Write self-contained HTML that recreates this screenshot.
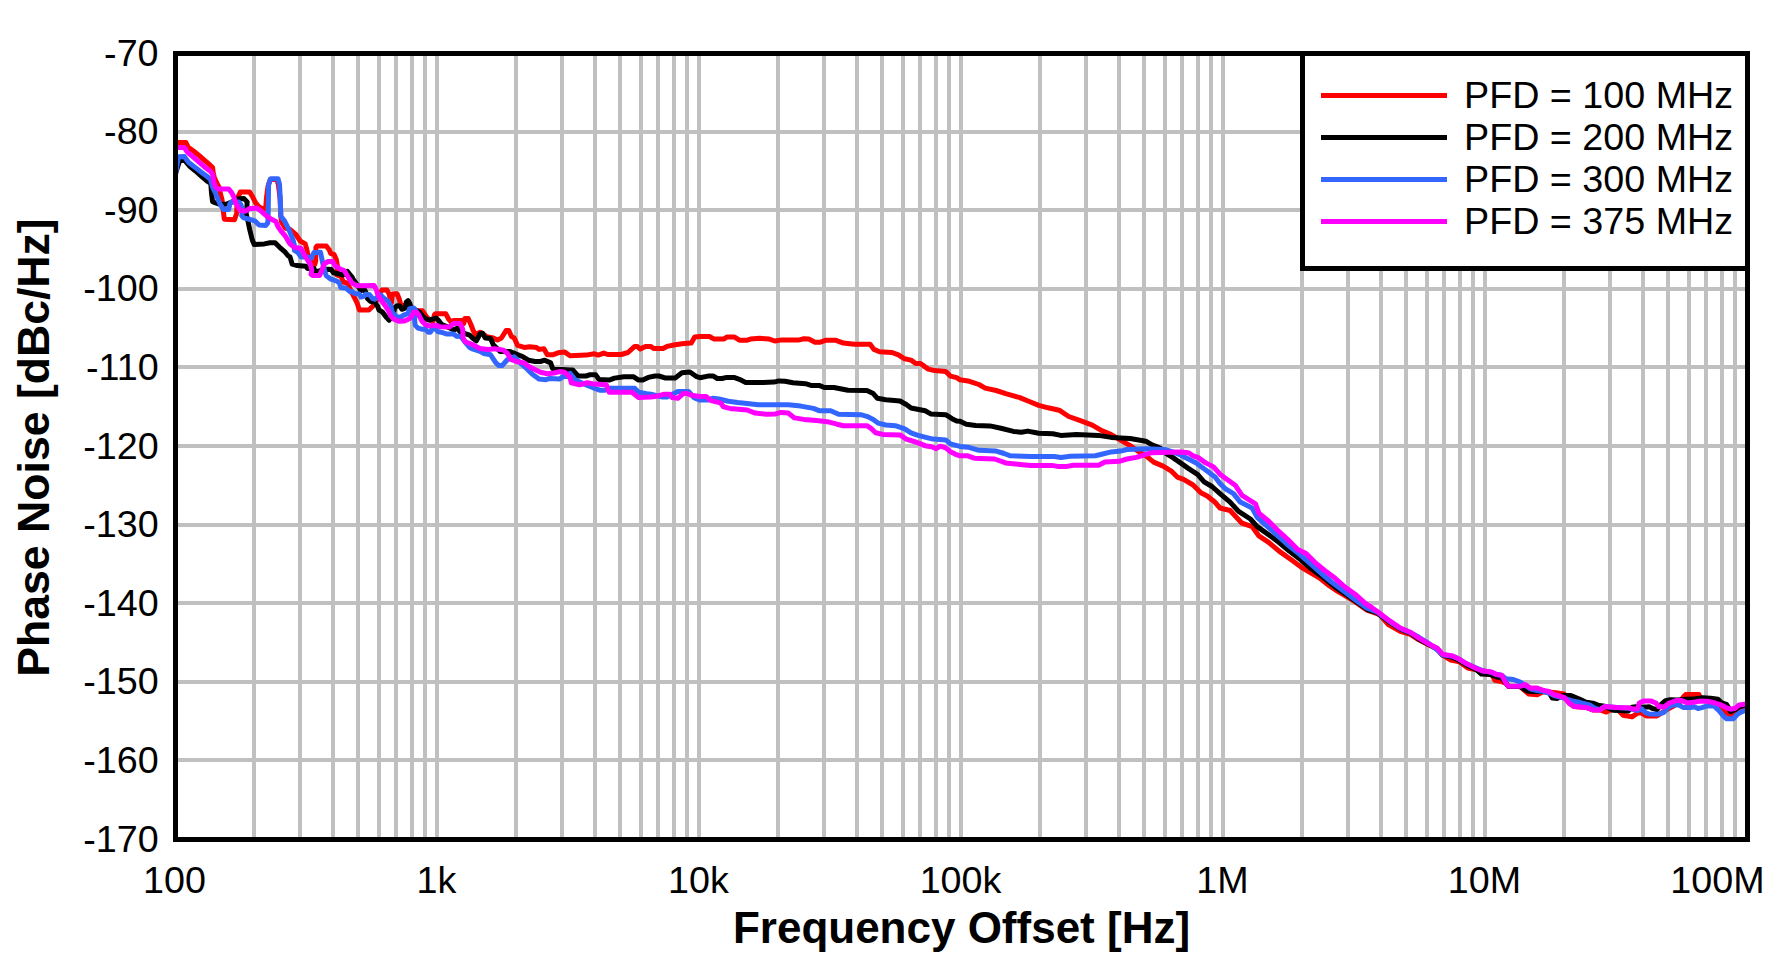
<!DOCTYPE html>
<html lang="en"><head><meta charset="utf-8"><title>Phase Noise vs Frequency Offset</title>
<style>html,body{margin:0;padding:0;background:#fff;}body{width:1779px;height:965px;overflow:hidden;}svg{display:block;}text{font-family:"Liberation Sans",Arial,Helvetica,sans-serif;fill:#000;}</style></head><body>
<svg width="1779" height="965" viewBox="0 0 1779 965">
<rect x="0" y="0" width="1779" height="965" fill="#ffffff"/>
<path d="M254.0,53.5 V839.5 M300.0,53.5 V839.5 M333.0,53.5 V839.5 M358.0,53.5 V839.5 M379.0,53.5 V839.5 M396.0,53.5 V839.5 M412.0,53.5 V839.5 M425.0,53.5 V839.5 M437.0,53.5 V839.5 M516.0,53.5 V839.5 M562.0,53.5 V839.5 M595.0,53.5 V839.5 M620.0,53.5 V839.5 M641.0,53.5 V839.5 M658.0,53.5 V839.5 M674.0,53.5 V839.5 M687.0,53.5 V839.5 M699.0,53.5 V839.5 M778.0,53.5 V839.5 M824.0,53.5 V839.5 M857.0,53.5 V839.5 M882.0,53.5 V839.5 M903.0,53.5 V839.5 M920.0,53.5 V839.5 M936.0,53.5 V839.5 M949.0,53.5 V839.5 M961.0,53.5 V839.5 M1040.0,53.5 V839.5 M1086.0,53.5 V839.5 M1119.0,53.5 V839.5 M1144.0,53.5 V839.5 M1165.0,53.5 V839.5 M1182.0,53.5 V839.5 M1198.0,53.5 V839.5 M1211.0,53.5 V839.5 M1223.0,53.5 V839.5 M1302.0,53.5 V839.5 M1348.0,53.5 V839.5 M1381.0,53.5 V839.5 M1406.0,53.5 V839.5 M1427.0,53.5 V839.5 M1444.0,53.5 V839.5 M1460.0,53.5 V839.5 M1473.0,53.5 V839.5 M1485.0,53.5 V839.5 M1564.0,53.5 V839.5 M1610.0,53.5 V839.5 M1643.0,53.5 V839.5 M1668.0,53.5 V839.5 M1689.0,53.5 V839.5 M1706.0,53.5 V839.5 M1722.0,53.5 V839.5 M1735.0,53.5 V839.5 M175.5,132.0 H1747.5 M175.5,210.0 H1747.5 M175.5,289.0 H1747.5 M175.5,367.0 H1747.5 M175.5,446.0 H1747.5 M175.5,525.0 H1747.5 M175.5,603.0 H1747.5 M175.5,682.0 H1747.5 M175.5,760.0 H1747.5" stroke="#c0c0c0" stroke-width="4" fill="none"/>
<defs><clipPath id="pc"><rect x="175.5" y="53.5" width="1572.0" height="786.0"/></clipPath></defs>
<g clip-path="url(#pc)" fill="none" stroke-width="5" stroke-linejoin="round" stroke-linecap="butt">
<path d="M174.9,142.5 L185.8,142.5 L188.3,147.3 L193.8,151.3 L199.6,156.0 L204.6,160.4 L209.7,164.7 L212.6,167.6 L213.2,172.7 L214.4,177.8 L217.0,183.6 L219.1,187.2 L220.2,193.0 L222.0,199.6 L224.3,219.3 L234.5,219.7 L236.7,213.5 L237.0,204.8 L238.5,196.1 L240.3,192.1 L249.7,192.1 L252.6,196.8 L255.5,202.6 L259.1,207.0 L264.2,209.2 L265.8,206.6 L266.5,197.6 L268.0,186.3 L270.2,179.6 L276.9,179.4 L278.4,184.9 L280.0,197.6 L280.8,216.4 L281.6,222.2 L285.3,228.0 L290.0,229.4 L295.8,234.4 L300.2,241.0 L305.2,243.9 L306.7,248.9 L307.8,254.7 L311.0,261.3 L314.7,264.5 L315.7,261.3 L315.9,247.5 L317.0,246.0 L326.3,246.0 L329.2,249.7 L330.6,253.3 L334.2,254.7 L336.4,259.8 L337.5,266.3 L336.8,275.0 L340.8,276.5 L343.7,282.3 L347.3,283.0 L352.2,293.4 L354.4,297.7 L357.3,303.5 L359.4,310.0 L368.9,310.0 L372.5,306.4 L374.7,303.5 L378.3,297.0 L380.5,292.6 L381.9,290.1 L387.0,290.1 L389.2,294.1 L391.3,303.5 L392.4,294.1 L397.1,293.7 L399.3,299.2 L400.8,305.0 L403.7,305.7 L408.0,307.1 L413.8,310.0 L418.2,310.8 L422.5,310.8 L425.4,315.1 L426.9,317.3 L429.0,319.2 L432.6,321.7 L434.5,314.8 L435.5,313.7 L445.7,313.7 L448.6,319.2 L450.8,321.7 L453.7,320.6 L461.7,320.6 L463.8,323.5 L464.9,318.4 L468.2,318.4 L471.1,325.0 L473.3,330.8 L475.4,334.4 L480.0,332.2 L486.6,336.6 L493.3,338.0 L497.4,340.0 L501.4,338.0 L506.1,330.5 L508.8,330.5 L511.5,336.6 L514.2,338.0 L517.6,345.4 L524.3,347.4 L529.7,346.7 L536.5,347.4 L539.2,349.4 L543.9,348.7 L547.3,354.8 L552.6,354.8 L558.0,352.8 L564.8,352.1 L570.0,355.8 L586.2,355.1 L594.3,353.8 L598.3,355.1 L603.7,353.1 L607.7,354.5 L621.2,354.5 L628.0,352.5 L634.7,346.4 L637.4,346.4 L640.1,349.1 L645.5,346.4 L650.9,346.4 L653.6,348.4 L663.0,348.4 L667.0,346.4 L673.8,345.0 L681.9,343.7 L691.3,343.0 L694.7,337.0 L700.0,336.5 L709.4,336.5 L714.2,339.1 L723.6,339.1 L726.8,337.1 L734.6,337.1 L739.4,340.2 L747.2,340.2 L750.4,339.1 L759.8,338.3 L769.3,339.1 L774.8,341.0 L781.9,339.9 L799.2,339.9 L803.9,338.8 L808.7,339.1 L815.0,342.3 L819.7,342.3 L826.0,340.2 L835.4,340.2 L843.3,343.1 L854.3,344.3 L870.1,344.3 L874.0,349.4 L879.5,351.7 L892.1,352.5 L898.4,354.9 L904.7,358.8 L911.0,360.1 L915.7,363.5 L920.5,363.5 L928.3,369.1 L934.6,370.6 L945.7,371.4 L950.4,376.1 L956.7,377.7 L960.0,379.8 L969.4,381.3 L978.9,384.5 L985.2,388.1 L996.2,390.5 L1005.7,393.6 L1019.8,397.6 L1029.3,401.5 L1038.7,405.4 L1048.2,407.8 L1059.2,410.2 L1068.7,416.5 L1079.7,420.4 L1092.3,425.1 L1101.7,430.6 L1111.2,434.6 L1120.6,440.1 L1130.1,445.6 L1138.0,451.1 L1145.8,455.8 L1153.7,462.1 L1163.1,466.1 L1171.0,470.8 L1177.3,477.1 L1183.6,479.4 L1193.1,485.0 L1200.9,492.8 L1207.2,496.0 L1215.1,502.3 L1220.0,508.0 L1230.1,510.5 L1242.0,523.2 L1252.1,526.6 L1258.9,535.9 L1269.0,542.6 L1279.1,551.1 L1290.9,559.5 L1301.1,567.1 L1309.5,572.2 L1319.7,578.1 L1328.1,584.9 L1338.2,591.6 L1348.4,597.5 L1358.5,604.3 L1367.0,610.2 L1377.1,613.6 L1380.0,615.0 L1388.4,624.6 L1400.3,631.4 L1410.4,634.3 L1418.9,639.8 L1429.0,644.9 L1437.4,649.1 L1442.5,655.0 L1450.9,660.1 L1459.4,661.8 L1467.8,668.0 L1476.3,669.7 L1483.0,671.9 L1491.5,673.6 L1494.9,680.4 L1499.9,681.2 L1505.8,683.2 L1508.4,686.3 L1520.2,686.6 L1528.6,693.9 L1537.1,694.7 L1543.9,691.4 L1555.7,692.7 L1564.1,693.9 L1569.2,703.2 L1574.3,706.6 L1586.1,707.4 L1592.8,709.9 L1599.6,709.9 L1606.4,712.0 L1609.7,710.3 L1616.5,708.2 L1623.2,715.3 L1632.0,716.9 L1637.8,713.0 L1641.6,713.0 L1646.4,715.9 L1656.9,715.9 L1668.4,708.7 L1672.2,706.8 L1679.8,702.0 L1683.6,696.8 L1685.6,694.6 L1698.9,694.6 L1700.4,697.7 L1704.7,700.1 L1712.3,701.1 L1718.0,704.0 L1721.9,709.7 L1727.6,713.5 L1730.5,714.9 L1733.3,712.1 L1739.1,707.8 L1746.7,705.9" stroke="#ff0000"/>
<path d="M174.9,175.6 L179.7,160.5 L184.7,160.5 L189.4,166.0 L195.2,170.7 L201.0,175.8 L206.8,180.8 L210.8,183.4 L211.5,193.0 L212.6,201.7 L214.9,202.6 L220.7,204.5 L226.5,204.1 L232.3,201.9 L236.7,199.0 L243.9,198.6 L247.2,201.9 L246.8,207.7 L246.1,213.5 L247.9,220.8 L249.7,229.5 L252.3,240.0 L254.2,244.6 L264.3,243.9 L270.0,242.8 L275.1,242.8 L279.4,247.1 L285.2,252.2 L288.1,255.8 L290.0,256.9 L292.2,264.2 L297.3,265.6 L306.0,266.3 L307.4,268.5 L313.9,268.5 L315.4,271.4 L317.6,271.4 L322.6,270.0 L327.0,269.2 L331.3,269.6 L333.5,272.9 L339.3,274.0 L342.9,275.0 L347.3,271.4 L352.2,277.4 L352.9,278.9 L356.5,283.9 L360.9,290.5 L364.5,289.7 L366.7,294.1 L367.4,298.4 L370.3,301.3 L374.7,302.1 L377.6,306.4 L379.0,310.0 L382.6,312.2 L386.3,317.3 L389.2,320.2 L393.5,313.7 L394.6,307.9 L397.1,305.7 L400.0,306.1 L401.9,309.3 L405.5,307.9 L406.2,302.1 L408.0,300.6 L409.8,303.5 L410.9,307.1 L415.3,310.0 L419.6,312.2 L422.5,315.8 L425.4,318.7 L429.1,320.1 L436.3,318.1 L439.2,321.3 L441.3,324.2 L447.9,327.1 L453.7,330.0 L457.3,328.2 L460.2,331.9 L465.3,333.7 L469.6,335.1 L472.5,338.0 L476.2,340.9 L478.3,337.3 L480.0,333.7 L482.6,333.2 L485.3,338.0 L490.6,338.6 L493.3,344.7 L497.4,348.7 L500.1,351.4 L509.5,351.4 L516.3,354.1 L523.0,356.8 L528.4,360.2 L535.1,361.5 L540.5,361.5 L544.6,360.2 L550.6,362.9 L552.6,368.3 L554.0,369.6 L562.1,369.6 L570.0,370.0 L572.7,370.0 L578.1,376.0 L586.2,376.0 L590.2,374.7 L595.6,374.7 L599.0,379.4 L609.1,380.1 L614.5,378.1 L623.9,376.7 L633.3,376.7 L638.7,380.1 L642.8,380.1 L648.2,377.4 L654.9,376.0 L658.9,376.0 L665.7,378.1 L675.1,378.1 L681.9,372.7 L689.9,372.0 L696.7,376.7 L700.0,377.7 L707.9,376.1 L713.4,376.1 L717.3,378.5 L722.0,378.5 L726.8,377.4 L733.9,377.4 L739.4,379.3 L745.7,382.4 L763.0,382.4 L774.0,382.1 L778.7,380.9 L785.0,381.2 L792.9,382.8 L805.5,383.7 L811.8,385.6 L819.7,385.6 L824.4,387.5 L833.9,387.5 L848.0,390.3 L866.9,390.6 L873.2,393.5 L877.2,398.2 L885.8,399.8 L900.0,401.0 L906.3,404.5 L911.0,408.0 L925.2,410.8 L930.7,413.9 L945.7,414.7 L952.0,418.7 L956.7,421.0 L960.0,421.2 L966.3,424.3 L975.7,425.4 L989.9,425.9 L1000.9,428.3 L1013.5,431.4 L1021.4,432.2 L1027.7,431.1 L1038.7,433.3 L1052.9,433.8 L1060.8,435.4 L1076.5,434.6 L1098.6,435.4 L1111.2,437.4 L1130.1,438.5 L1145.8,441.2 L1152.1,444.8 L1160.0,448.0 L1166.3,453.5 L1172.6,457.4 L1180.5,462.9 L1188.3,468.4 L1197.8,474.7 L1204.1,481.8 L1212.0,486.5 L1220.0,493.6 L1230.1,502.1 L1238.6,511.4 L1250.4,519.0 L1257.2,526.6 L1270.7,536.2 L1279.1,542.6 L1289.3,551.1 L1299.4,558.7 L1311.2,568.8 L1321.4,576.1 L1334.9,586.9 L1346.7,595.0 L1358.5,603.1 L1368.6,610.2 L1377.1,612.7 L1380.0,615.0 L1390.1,622.4 L1400.3,628.9 L1410.4,633.1 L1418.9,639.3 L1429.0,644.4 L1437.4,649.1 L1442.5,655.0 L1452.6,657.2 L1459.4,660.6 L1466.1,664.7 L1476.3,669.7 L1481.4,674.1 L1489.8,674.5 L1496.6,677.0 L1501.6,677.8 L1505.8,682.9 L1508.4,686.3 L1520.2,686.6 L1527.0,691.0 L1532.0,691.4 L1542.2,691.4 L1548.9,692.2 L1552.3,698.1 L1557.4,698.4 L1562.4,695.6 L1570.9,695.6 L1579.3,699.0 L1586.1,702.3 L1592.8,703.2 L1597.9,705.2 L1604.7,706.2 L1613.1,710.3 L1628.3,710.9 L1632.0,707.3 L1635.9,706.8 L1643.5,707.3 L1649.2,706.8 L1653.1,708.7 L1656.9,709.7 L1660.7,704.9 L1665.5,700.6 L1670.3,699.7 L1677.9,700.1 L1686.5,699.2 L1695.1,698.7 L1702.8,697.7 L1710.4,698.2 L1718.0,699.2 L1721.9,703.0 L1726.6,704.4 L1728.6,707.8 L1730.5,711.6 L1735.2,709.7 L1739.1,706.8 L1746.7,704.9" stroke="#000000"/>
<path d="M174.9,178.5 L178.4,156.8 L184.3,156.6 L188.7,162.6 L194.5,166.9 L201.0,172.0 L206.8,176.3 L210.4,179.2 L212.6,187.2 L215.5,193.0 L218.4,200.3 L219.9,203.9 L223.6,209.5 L228.7,209.5 L229.8,204.1 L230.9,202.3 L233.0,201.9 L238.8,201.9 L241.0,204.8 L242.5,210.6 L241.7,215.7 L243.9,217.9 L248.3,219.0 L254.8,220.8 L259.1,225.1 L265.7,225.5 L267.8,222.9 L268.2,213.5 L268.6,184.5 L270.7,178.7 L278.0,178.7 L279.5,184.5 L280.2,197.6 L280.9,216.4 L284.5,220.8 L287.4,226.6 L290.0,232.3 L292.9,239.5 L294.4,245.3 L294.4,250.4 L298.0,252.6 L300.9,256.9 L307.4,256.9 L311.0,258.4 L313.9,252.6 L320.5,252.2 L321.9,259.1 L322.6,262.7 L324.8,271.4 L326.3,275.8 L330.6,279.0 L336.4,280.8 L339.3,283.0 L340.8,287.4 L345.8,288.1 L350.2,291.7 L352.2,291.6 L354.4,293.4 L359.4,294.1 L360.9,297.0 L363.8,296.3 L366.0,294.1 L369.6,294.8 L372.5,298.4 L374.7,299.2 L380.5,294.8 L384.1,298.4 L388.4,301.3 L391.0,306.4 L392.1,312.2 L396.4,316.6 L400.8,317.3 L403.7,315.1 L408.0,313.7 L409.5,308.6 L413.8,307.9 L416.0,310.8 L414.9,316.6 L414.6,320.2 L415.3,325.3 L418.2,328.2 L422.5,329.3 L425.4,329.3 L428.3,332.2 L430.5,332.2 L431.9,329.3 L435.5,328.6 L437.7,331.5 L443.5,332.9 L446.4,334.0 L453.7,334.0 L456.6,336.2 L460.9,336.6 L465.3,342.4 L469.6,347.5 L472.5,348.9 L480.0,351.4 L483.9,353.5 L490.6,354.8 L495.4,362.2 L498.7,365.6 L502.1,365.6 L507.5,359.5 L510.9,358.2 L514.2,356.8 L521.6,364.2 L527.0,368.9 L532.4,374.3 L539.2,379.1 L545.9,379.7 L549.9,378.4 L559.4,379.1 L563.4,376.4 L567.5,376.4 L570.0,373.3 L575.4,380.1 L587.5,385.5 L594.3,388.2 L599.6,390.2 L605.0,390.2 L610.4,388.2 L634.7,388.2 L638.7,392.2 L646.8,393.6 L650.9,394.2 L661.6,396.9 L667.0,396.9 L673.8,393.6 L677.8,391.5 L688.6,391.5 L694.0,397.6 L700.0,400.1 L707.9,400.1 L712.6,398.2 L718.9,399.0 L728.3,401.3 L737.8,402.6 L758.3,404.8 L788.2,404.8 L800.8,406.1 L813.4,408.4 L819.7,410.8 L830.7,410.8 L838.6,414.3 L860.6,414.7 L866.9,416.3 L873.2,419.4 L878.0,423.1 L885.8,425.0 L895.3,425.7 L904.7,428.9 L911.0,432.8 L917.3,435.2 L926.8,437.6 L933.1,439.1 L945.7,439.9 L950.4,443.9 L960.0,446.4 L967.9,447.2 L978.9,450.3 L996.2,451.1 L1004.1,453.5 L1010.4,455.8 L1030.9,456.6 L1054.5,456.6 L1060.8,457.4 L1070.2,456.3 L1095.4,455.8 L1101.7,454.3 L1111.2,451.9 L1120.6,451.1 L1126.9,449.5 L1145.8,448.7 L1164.7,449.5 L1172.6,451.9 L1180.5,455.0 L1189.9,459.8 L1196.2,462.9 L1205.7,470.0 L1215.1,477.1 L1220.0,483.5 L1225.1,488.6 L1233.5,493.6 L1240.3,502.1 L1252.1,508.0 L1257.2,517.3 L1270.7,529.5 L1277.4,535.5 L1287.6,544.7 L1299.4,554.0 L1311.2,564.3 L1321.4,573.5 L1331.5,582.0 L1343.3,590.8 L1355.1,599.7 L1367.0,608.2 L1377.1,611.9 L1380.0,614.2 L1390.1,621.8 L1400.3,628.5 L1410.4,632.6 L1418.9,637.3 L1429.0,643.7 L1437.4,650.0 L1442.5,655.0 L1452.6,656.2 L1459.4,659.3 L1466.1,663.5 L1476.3,668.0 L1483.0,670.7 L1491.5,672.4 L1496.6,674.5 L1501.6,675.3 L1505.8,678.7 L1513.4,679.5 L1520.2,682.1 L1525.3,685.4 L1530.3,688.8 L1537.1,690.5 L1543.9,691.4 L1548.9,693.0 L1554.0,695.6 L1564.1,698.1 L1570.9,700.6 L1579.3,702.3 L1589.5,704.9 L1594.5,708.2 L1599.6,709.6 L1604.7,706.6 L1616.5,707.4 L1628.3,708.2 L1633.4,709.6 L1637.8,710.6 L1641.6,708.7 L1645.4,712.6 L1649.2,714.0 L1656.9,714.3 L1663.6,712.6 L1668.4,707.3 L1673.1,705.1 L1678.9,705.1 L1683.6,707.6 L1690.3,707.6 L1694.2,706.8 L1698.0,708.5 L1701.8,707.6 L1706.6,706.1 L1714.2,706.1 L1719.0,710.6 L1723.8,716.4 L1726.6,718.8 L1733.3,718.8 L1737.2,714.5 L1741.0,712.1 L1746.7,709.7" stroke="#3366ff"/>
<path d="M174.9,147.5 L184.3,147.5 L187.6,152.4 L193.0,156.8 L198.8,161.8 L204.6,166.9 L210.4,171.3 L212.6,174.2 L213.7,181.4 L215.5,187.2 L218.4,189.0 L228.6,189.0 L231.5,192.3 L233.7,196.7 L235.8,203.2 L240.3,210.6 L245.4,211.3 L249.7,208.4 L257.0,208.1 L261.3,211.3 L267.1,216.4 L271.5,219.3 L275.8,221.5 L278.0,226.6 L281.6,231.7 L285.3,236.0 L290.0,243.9 L294.4,247.5 L300.9,248.2 L303.8,254.0 L307.4,259.8 L310.3,264.2 L311.8,270.0 L311.0,274.3 L312.5,275.4 L319.7,275.4 L321.9,270.0 L324.1,264.2 L327.7,261.6 L332.8,261.6 L335.0,265.6 L339.3,268.5 L344.4,270.7 L347.3,275.8 L352.2,283.2 L357.3,285.7 L373.9,285.4 L376.1,289.0 L377.6,294.1 L380.5,299.2 L384.8,305.0 L388.4,310.8 L390.6,315.8 L394.2,319.5 L399.3,321.3 L404.4,320.9 L409.5,318.7 L412.4,315.1 L413.8,312.2 L416.7,312.2 L418.9,315.1 L421.8,320.9 L425.4,324.6 L429.1,325.9 L436.3,325.3 L440.6,326.8 L449.3,327.1 L453.7,323.5 L460.2,323.5 L462.7,329.3 L463.1,338.0 L465.3,341.7 L472.5,344.6 L480.0,348.5 L488.0,349.4 L494.7,348.7 L503.5,350.1 L507.5,353.5 L510.9,359.5 L516.3,361.5 L524.3,362.9 L528.4,366.3 L533.8,368.9 L540.5,372.3 L547.3,373.7 L554.0,373.0 L559.4,371.6 L564.8,372.3 L570.0,377.4 L571.3,382.8 L579.4,384.8 L587.5,382.8 L594.3,384.1 L606.4,384.8 L609.1,392.2 L621.2,392.2 L632.0,392.2 L638.7,397.6 L650.9,396.9 L656.3,396.3 L664.3,394.2 L669.7,394.2 L672.4,397.6 L677.8,398.3 L683.2,393.6 L687.3,393.6 L692.6,395.6 L700.0,396.6 L706.3,396.6 L711.0,400.6 L720.5,402.9 L723.6,406.9 L729.9,408.4 L747.2,410.0 L755.1,413.1 L766.1,414.3 L775.6,413.9 L781.1,412.4 L788.2,413.1 L794.5,417.9 L803.9,419.4 L816.5,420.6 L829.1,422.1 L837.0,424.2 L843.3,425.7 L866.9,425.7 L871.7,428.9 L875.6,432.8 L882.7,434.4 L900.0,434.9 L906.3,439.1 L915.7,442.0 L920.5,443.9 L925.2,445.7 L931.5,446.7 L936.2,448.6 L940.2,446.2 L945.7,447.8 L950.4,451.7 L955.1,454.1 L960.0,455.8 L967.9,455.8 L974.2,458.2 L994.6,459.0 L1005.7,462.9 L1019.8,464.5 L1030.9,465.6 L1052.9,465.6 L1057.6,466.4 L1067.1,466.4 L1073.4,465.3 L1098.6,465.3 L1104.9,462.1 L1119.1,461.3 L1126.9,459.0 L1136.4,457.4 L1145.8,454.3 L1152.1,452.7 L1169.4,452.2 L1180.5,451.9 L1188.3,452.7 L1193.1,455.8 L1197.8,457.4 L1205.7,462.9 L1213.5,466.9 L1220.0,474.2 L1226.8,479.3 L1235.2,485.2 L1242.0,495.3 L1255.5,503.8 L1258.9,513.1 L1269.0,521.5 L1277.4,530.0 L1287.6,539.3 L1297.7,549.4 L1306.1,553.6 L1314.6,562.1 L1324.7,570.5 L1334.9,578.1 L1343.3,585.7 L1355.1,594.2 L1365.3,603.4 L1372.0,607.7 L1380.0,613.6 L1390.1,621.2 L1400.3,628.0 L1410.4,632.2 L1418.9,638.1 L1429.0,644.1 L1437.4,648.3 L1442.5,654.2 L1452.6,655.9 L1459.4,659.3 L1466.1,663.5 L1476.3,668.5 L1483.0,671.1 L1491.5,671.9 L1496.6,674.5 L1501.6,675.3 L1505.8,682.9 L1508.4,686.3 L1520.2,686.3 L1525.3,684.6 L1530.3,688.0 L1537.1,688.0 L1543.9,690.5 L1548.9,691.4 L1554.0,694.7 L1564.1,697.3 L1569.2,703.2 L1574.3,706.6 L1586.1,707.4 L1592.8,709.9 L1599.6,709.9 L1604.7,706.6 L1616.5,707.4 L1628.3,707.7 L1633.4,709.1 L1637.8,708.7 L1639.2,703.0 L1643.5,701.1 L1651.2,701.1 L1655.9,703.0 L1658.8,706.8 L1664.5,706.8 L1669.3,703.0 L1676.0,700.6 L1681.7,700.6 L1687.5,703.0 L1695.1,702.0 L1699.9,701.1 L1709.4,701.6 L1715.2,703.0 L1720.9,704.9 L1726.6,707.8 L1730.5,709.2 L1735.2,708.3 L1739.1,704.9 L1746.7,704.0" stroke="#ff00ff"/>
</g>
<rect x="1302.5" y="53.5" width="445.0" height="215.0" fill="#fff" stroke="#000" stroke-width="5"/>
<rect x="175.5" y="53.5" width="1572.0" height="786.0" fill="none" stroke="#000" stroke-width="5"/>
<line x1="1321" x2="1447" y1="95.5" y2="95.5" stroke="#ff0000" stroke-width="5"/>
<text x="1464" y="107.9" font-size="37.7">PFD = 100 MHz</text>
<line x1="1321" x2="1447" y1="137.5" y2="137.5" stroke="#000000" stroke-width="5"/>
<text x="1464" y="149.9" font-size="37.7">PFD = 200 MHz</text>
<line x1="1321" x2="1447" y1="179.5" y2="179.5" stroke="#3366ff" stroke-width="5"/>
<text x="1464" y="191.9" font-size="37.7">PFD = 300 MHz</text>
<line x1="1321" x2="1447" y1="221.5" y2="221.5" stroke="#ff00ff" stroke-width="5"/>
<text x="1464" y="233.9" font-size="37.7">PFD = 375 MHz</text>
<text x="158.6" y="65.5" font-size="37.7" text-anchor="end">-70</text>
<text x="158.6" y="144.1" font-size="37.7" text-anchor="end">-80</text>
<text x="158.6" y="222.7" font-size="37.7" text-anchor="end">-90</text>
<text x="158.6" y="301.3" font-size="37.7" text-anchor="end">-100</text>
<text x="158.6" y="379.9" font-size="37.7" text-anchor="end">-110</text>
<text x="158.6" y="458.5" font-size="37.7" text-anchor="end">-120</text>
<text x="158.6" y="537.1" font-size="37.7" text-anchor="end">-130</text>
<text x="158.6" y="615.7" font-size="37.7" text-anchor="end">-140</text>
<text x="158.6" y="694.3" font-size="37.7" text-anchor="end">-150</text>
<text x="158.6" y="772.9" font-size="37.7" text-anchor="end">-160</text>
<text x="158.6" y="851.5" font-size="37.7" text-anchor="end">-170</text>
<text x="174.5" y="893.2" font-size="37.7" text-anchor="middle">100</text>
<text x="436.5" y="893.2" font-size="37.7" text-anchor="middle">1k</text>
<text x="698.5" y="893.2" font-size="37.7" text-anchor="middle">10k</text>
<text x="960.5" y="893.2" font-size="37.7" text-anchor="middle">100k</text>
<text x="1222.5" y="893.2" font-size="37.7" text-anchor="middle">1M</text>
<text x="1484.5" y="893.2" font-size="37.7" text-anchor="middle">10M</text>
<text x="1717.5" y="893.2" font-size="37.7" text-anchor="middle">100M</text>
<text x="961.5" y="943" font-size="44" font-weight="bold" text-anchor="middle">Frequency Offset [Hz]</text>
<text transform="translate(49.2,447.5) rotate(-90)" font-size="44.6" font-weight="bold" text-anchor="middle">Phase Noise [dBc/Hz]</text>
</svg></body></html>
